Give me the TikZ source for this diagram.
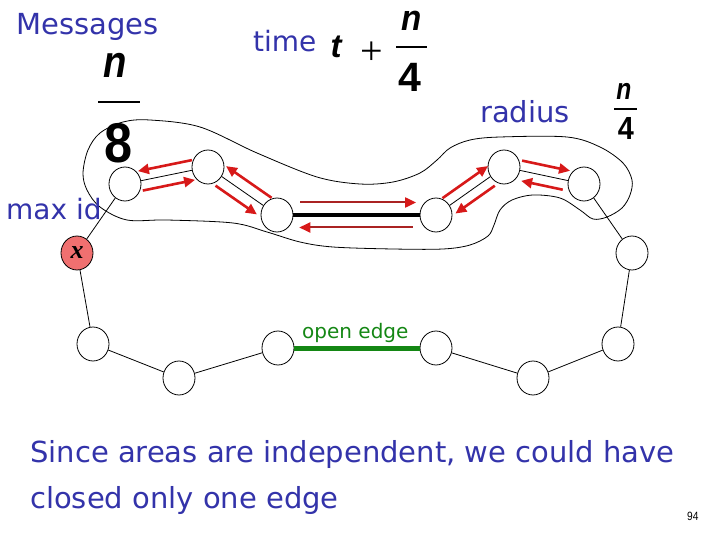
\documentclass[tikz,border=0pt]{standalone}
\usepackage{fontspec}
\setmainfont{DejaVu Sans}
\newfontfamily\arial{Liberation Sans}
\newfontfamily\timesf{Liberation Serif}
\usetikzlibrary{arrows.meta,calc,shapes.geometric}
\definecolor{txtblue}{RGB}{51,51,170}
\definecolor{msgred}{RGB}{215,25,25}
\definecolor{darkmsg}{RGB}{170,35,35}
\definecolor{edgegreen}{RGB}{20,135,20}
\definecolor{maxfill}{RGB}{240,112,112}
\newcommand\fs[1]{\fontsize{#1}{#1}\selectfont}
% style, from, to, frac1, frac2, distance, angle
\newcommand\msgarr[7]{\draw[#1] ($(#2)!#4!(#3)!#6!#7:(#3)$) -- ($(#2)!#5!(#3)!#6!#7:(#3)$);}
\begin{document}
\begin{tikzpicture}[x=1pt,y=-1pt,
  nd/.style={ellipse,draw,line width=0.8pt,minimum width=32pt,minimum height=34pt,inner sep=0pt,fill=white},
  edge/.style={line width=0.8pt},
  msg/.style={draw=msgred,line width=2.6pt,-{Triangle[length=11pt,width=10pt]}},
  msgd/.style={draw=darkmsg,line width=2pt,-{Triangle[length=11pt,width=10pt,color=msgred]}},
  lbl/.style={text=txtblue,inner sep=0pt,anchor=base west,font=\fs{28}},
  frac/.style={anchor=base,inner sep=0pt},
]
\useasboundingbox (0,0) rectangle (720,540);

% area outline
\draw[line width=0.8pt] plot[smooth cycle, tension=0.55] coordinates {
 (123,122) (150,120) (200,127) (257,153) (317,177) (360,184) (393,182)
 (420,173) (437,160) (450,148) (470,140) (500,137) (567,137) (600,147)
 (623,163) (632,180) (630,195) (622,208) (607,217) (593,219) (580,210)
 (560,198) (533,195) (512,200) (500,210) (494,225) (488,236) (470,245)
 (443,249) (393,249) (333,247) (300,242) (267,232) (233,223) (167,220)
 (127,220) (100,207) (87,190) (83,173) (88,150) (100,133)};

% nodes
\node[nd] (A) at (125,184) {};
\node[nd] (B) at (208,167) {};
\node[nd] (C) at (277,215) {};
\node[nd] (D) at (436,215) {};
\node[nd] (E) at (504,167) {};
\node[nd] (F) at (584,184) {};
\node[nd] (G) at (632,253) {};
\node[nd] (M) at (618,344) {};
\node[nd] (L) at (533,378) {};
\node[nd] (K) at (436,348) {};
\node[nd] (J) at (278,348) {};
\node[nd] (I) at (179,378) {};
\node[nd] (H) at (93,344) {};
\node[nd,fill=maxfill,font=\timesf\bfseries\itshape\fs{26}] (X) at (77,253) {x};

% ring edges
\draw[edge] (X) -- (A);
\draw[edge] (A) -- (B);
\draw[edge] (B) -- (C);
\draw[line width=4pt] (C) -- (D);
\draw[edge] (D) -- (E);
\draw[edge] (E) -- (F);
\draw[edge] (F) -- (G);
\draw[edge] (G) -- (M);
\draw[edge] (M) -- (L);
\draw[edge] (L) -- (K);
\draw[edgegreen,line width=5pt] (K) -- (J);
\draw[edge] (J) -- (I);
\draw[edge] (I) -- (H);
\draw[edge] (H) -- (X);

% messages
\msgarr{msg}{B}{A}{0.17}{0.82}{10pt}{-90}
\msgarr{msg}{A}{B}{0.19}{0.82}{10pt}{-90}
\msgarr{msg}{C}{B}{0.17}{0.83}{11pt}{-90}
\msgarr{msg}{B}{C}{0.2}{0.8}{11pt}{-90}
\msgarr{msgd}{C}{D}{0.145}{0.875}{12.5pt}{90}
\msgarr{msgd}{D}{C}{0.145}{0.86}{12.5pt}{90}
\msgarr{msg}{D}{E}{0.18}{0.85}{10pt}{90}
\msgarr{msg}{E}{D}{0.22}{0.8}{10pt}{90}
\msgarr{msg}{E}{F}{0.2}{0.8}{10pt}{90}
\msgarr{msg}{F}{E}{0.24}{0.76}{10pt}{90}

% labels
\node[lbl,font=\fs{29}] (lmsg) at (16,35) {Messages};
\node[lbl] (ltime) at (253,52) {time};
\node[lbl,font=\fs{29}] (lrad) at (480,123) {radius};
\node[lbl] (lmax) at (6,220) {max id};
\node[anchor=base west,inner sep=0pt,text=edgegreen,font=\fs{20}] (lopen) at (302,338) {open edge};

% n/8
\node[frac,font=\arial\bfseries\itshape\fs{45}] (n8n) at (115,78) {\scalebox{0.85}[1]{n}};
\draw[line width=2.7pt] (98,102) -- (140,102);
\node[frac,font=\arial\bfseries\fs{56}] (n8d) at (119,163) {\scalebox{0.9}[1]{8}};

% t + n/4
\node[frac,font=\arial\bfseries\itshape\fs{33}] (tt) at (336,58) {t};
\node[font=\timesf\fs{40},inner sep=0pt] (plus) at (372,53) {+};
\node[frac,font=\arial\bfseries\itshape\fs{36},text height=19pt] (t4n) at (412,31) {\scalebox{0.92}[1]{n}};
\draw[line width=1.5pt] (396,47) -- (427,47);
\node[frac,font=\arial\bfseries\fs{41}] (t4d) at (410,92) {4};

% radius n/4
\node[frac,font=\arial\bfseries\itshape\fs{30}] (r4n) at (624,100) {\scalebox{0.82}[1]{n}};
\draw[line width=1.2pt] (614,109) -- (637,109);
\node[frac,font=\arial\bfseries\fs{32}] (r4d) at (626,140) {\scalebox{0.9}[1]{4}};

% bottom text
\node[anchor=base west,inner sep=0pt,text=txtblue,font=\fs{29}] (s1) at (30,462) {Since areas are independent, we could have};
\node[anchor=base west,inner sep=0pt,text=txtblue,font=\fs{29}] (s2) at (30,508) {closed only one edge};
\node[anchor=base west,inner sep=0pt,font=\arial\fs{12}] (pg) at (687,520) {\scalebox{0.85}[1]{94}};
\end{tikzpicture}
\end{document}
